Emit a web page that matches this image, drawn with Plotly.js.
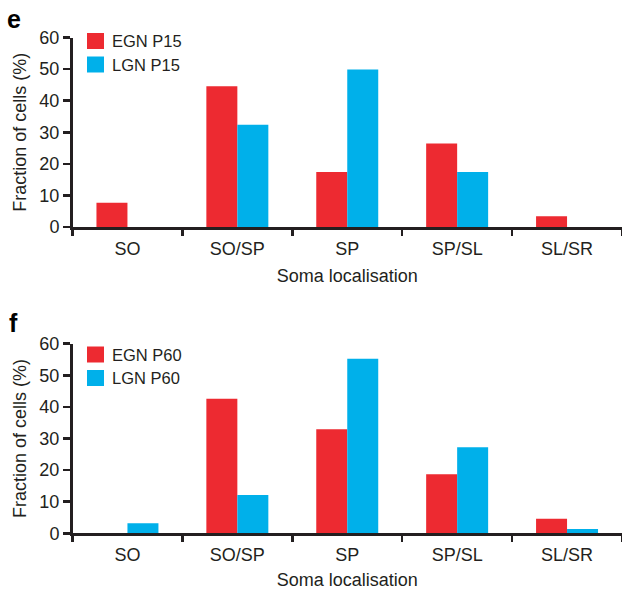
<!DOCTYPE html>
<html>
<head>
<meta charset="utf-8">
<script src="https://cdn.plot.ly/plotly-3.0.1.min.js"></script>
<style>html,body{margin:0;padding:0;background:#fff;}#chart{width:622px;height:590px;}</style>
</head>
<body>
<div id="chart"></div>
<script>
const categories = ['SO', 'SO/SP', 'SP', 'SP/SL', 'SL/SR'];
const egnP15 = [7.7, 44.6, 17.4, 26.4, 3.4];
const lgnP15 = [0, 32.4, 49.9, 17.4, 0];
const egnP60 = [0, 42.6, 32.9, 18.7, 4.6];
const lgnP60 = [3.2, 12.1, 55.2, 27.2, 1.4];
const yTicks = [0, 10, 20, 30, 40, 50, 60];
const panelLetters = ['e', 'f'];
const legendTop = ['EGN P15', 'LGN P15'];
const legendBottom = ['EGN P60', 'LGN P60'];
const xTitle = 'Soma localisation';
const yTitle = 'Fraction of cells (%)';

const W = 622, H = 590;
const RED = '#ed2a31', BLUE = '#00b0ea', INK = '#231f20';
const FONT = 'Liberation Sans, Arial, Helvetica, sans-serif';
const px = v => v / W;
const py = v => (H - v) / H;

const traces = [
  {type: 'bar', x: categories, y: egnP15, marker: {color: RED, line: {width: 0}}, xaxis: 'x', yaxis: 'y', showlegend: false},
  {type: 'bar', x: categories, y: lgnP15, marker: {color: BLUE, line: {width: 0}}, xaxis: 'x', yaxis: 'y', showlegend: false},
  {type: 'bar', x: categories, y: egnP60, marker: {color: RED, line: {width: 0}}, xaxis: 'x2', yaxis: 'y2', showlegend: false},
  {type: 'bar', x: categories, y: lgnP60, marker: {color: BLUE, line: {width: 0}}, xaxis: 'x2', yaxis: 'y2', showlegend: false}
];

function xAx(anchor) {
  return {
    domain: [px(72.5), 1], anchor: anchor, type: 'category', range: [-0.5, 4.5],
    showline: true, linecolor: INK, linewidth: 2.5, ticks: 'outside', tickson: 'boundaries',
    ticklen: 6, tickwidth: 2.5, tickcolor: INK, showgrid: false, zeroline: false,
    tickfont: {family: FONT, size: 18, color: INK}, ticklabelstandoff: 4,
    title: {text: xTitle, font: {family: FONT, size: 18, color: INK}, standoff: 12},
    fixedrange: true
  };
}
function yAx(domain, anchor) {
  return {
    domain: domain, anchor: anchor, range: [0, 60], tickvals: yTicks, ticktext: yTicks.map(String),
    showline: true, linecolor: INK, linewidth: 2.5, ticks: 'outside', ticklen: 7, tickwidth: 2.5,
    tickcolor: INK, showgrid: false, zeroline: false,
    tickfont: {family: FONT, size: 18, color: INK},
    title: {text: yTitle, font: {family: FONT, size: 18, color: INK}, standoff: 8},
    fixedrange: true
  };
}

const shapes = [];
const annotations = [];
function legend(labels, yRed, yBlue) {
  [[labels[0], yRed, RED], [labels[1], yBlue, BLUE]].forEach(([t, yc, c]) => {
    shapes.push({type: 'rect', xref: 'paper', yref: 'paper', x0: px(87), x1: px(104), y0: py(yc - 8), y1: py(yc + 8), fillcolor: c, line: {width: 0}});
    annotations.push({xref: 'paper', yref: 'paper', x: px(110), y: py(yc), xanchor: 'left', yanchor: 'middle', showarrow: false, text: t, font: {family: FONT, size: 16.5, color: INK}});
  });
}
legend(legendTop, 41, 64.5);
legend(legendBottom, 354.5, 378);
annotations.push({xref: 'paper', yref: 'paper', x: px(14), y: py(19), xanchor: 'center', yanchor: 'middle', showarrow: false, text: '<b>' + panelLetters[0] + '</b>', font: {family: FONT, size: 25, color: '#000'}});
annotations.push({xref: 'paper', yref: 'paper', x: px(13), y: py(323), xanchor: 'center', yanchor: 'middle', showarrow: false, text: '<b>' + panelLetters[1] + '</b>', font: {family: FONT, size: 25, color: '#000'}});

const layout = {
  width: W, height: H, margin: {l: 0, r: 0, t: 0, b: 0},
  paper_bgcolor: '#fff', plot_bgcolor: '#fff',
  barmode: 'group', bargap: 0.436, bargroupgap: 0,
  xaxis: xAx('y'), yaxis: yAx([py(227), py(37.5)], 'x'),
  xaxis2: xAx('y2'), yaxis2: yAx([py(533.3), py(343.7)], 'x2'),
  shapes: shapes, annotations: annotations,
  font: {family: FONT, color: INK}
};

Plotly.newPlot('chart', traces, layout, {displayModeBar: false, staticPlot: true});
</script>
</body>
</html>
